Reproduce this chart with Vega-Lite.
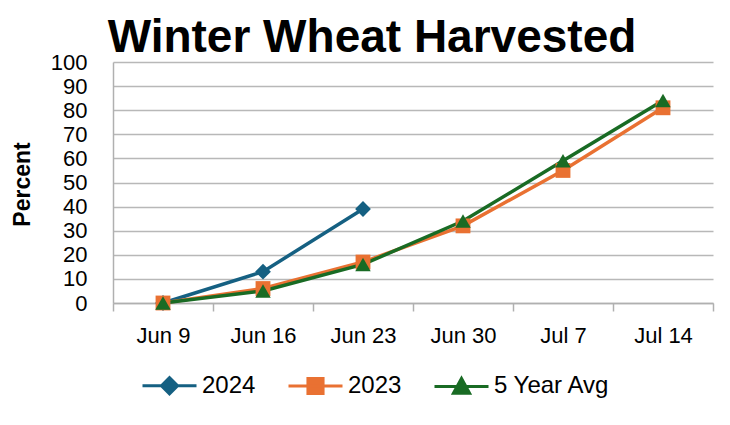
{
  "$schema": "https://vega.github.io/schema/vega-lite/v6.json",
  "width": 600,
  "height": 241,
  "autosize": {"type": "none"},
  "padding": {"left": 113, "top": 62, "right": 17, "bottom": 122},
  "background": "white",
  "title": {
    "text": "Winter Wheat Harvested",
    "font": "Liberation Sans",
    "fontSize": 46,
    "fontWeight": "bold",
    "color": "black",
    "anchor": "middle",
    "frame": "group",
    "dx": -41,
    "offset": -11
  },
  "config": {
    "view": {"stroke": null},
    "axis": {
      "labelFont": "Liberation Sans",
      "labelColor": "black",
      "titleFont": "Liberation Sans",
      "titleColor": "black",
      "domainColor": "#B0B0B0",
      "domainWidth": 1.5,
      "tickColor": "#B0B0B0",
      "tickWidth": 1.5,
      "gridColor": "#B8B8B8",
      "gridWidth": 1.5
    }
  },
  "data": {
    "values": [
      {"date": "Jun 9", "series": "2024", "value": 0},
      {"date": "Jun 16", "series": "2024", "value": 13},
      {"date": "Jun 23", "series": "2024", "value": 39},
      {"date": "Jun 9", "series": "2023", "value": 0},
      {"date": "Jun 16", "series": "2023", "value": 6},
      {"date": "Jun 23", "series": "2023", "value": 17},
      {"date": "Jun 30", "series": "2023", "value": 32},
      {"date": "Jul 7", "series": "2023", "value": 55},
      {"date": "Jul 14", "series": "2023", "value": 81},
      {"date": "Jun 9", "series": "5 Year Avg", "value": 0},
      {"date": "Jun 16", "series": "5 Year Avg", "value": 5},
      {"date": "Jun 23", "series": "5 Year Avg", "value": 16},
      {"date": "Jun 30", "series": "5 Year Avg", "value": 34},
      {"date": "Jul 7", "series": "5 Year Avg", "value": 59},
      {"date": "Jul 14", "series": "5 Year Avg", "value": 84}
    ]
  },
  "encoding": {
    "x": {
      "field": "date",
      "type": "ordinal",
      "sort": ["Jun 9", "Jun 16", "Jun 23", "Jun 30", "Jul 7", "Jul 14"],
      "scale": {"type": "band", "paddingInner": 0, "paddingOuter": 0},
      "axis": {
        "title": null,
        "labelAngle": 0,
        "labelFontSize": 22,
        "tickBand": "extent",
        "tickSize": 8,
        "labelPadding": 14,
        "grid": false,
        "domain": true
      }
    },
    "y": {
      "field": "value",
      "type": "quantitative",
      "scale": {"domain": [0, 100], "nice": false},
      "axis": {
        "values": [0, 10, 20, 30, 40, 50, 60, 70, 80, 90, 100],
        "title": "Percent",
        "titleFontSize": 23,
        "titleFontWeight": "bold",
        "titleX": -91,
        "titleY": 122,
        "titleAngle": -90,
        "titleAlign": "center",
        "titleBaseline": "middle",
        "labelFontSize": 22,
        "labelPadding": 26,
        "ticks": false,
        "grid": true
      }
    },
    "color": {
      "field": "series",
      "type": "nominal",
      "scale": {
        "domain": ["2024", "2023", "5 Year Avg"],
        "range": ["#156082", "#E97132", "#196B24"]
      },
      "legend": {
        "title": null,
        "orient": "none",
        "direction": "horizontal",
        "legendX": 28,
        "legendY": 295,
        "labelFont": "Liberation Sans",
        "labelFontSize": 24,
        "labelColor": "black",
        "labelOffset": 4,
        "columnPadding": 26,
        "symbolSize": 2916,
        "symbolStrokeWidth": 3,
        "encode": {
          "symbols": {
            "update": {
              "shape": {"signal": "datum.value == '2024' ? 'M-1,0L1,0M-0.3,0L0,-0.3L0.3,0L0,0.3Z' : datum.value == '2023' ? 'M-1,0L1,0M-0.28,-0.28L0.28,-0.28L0.28,0.28L-0.28,0.28Z' : 'M-1,0L1,0M-0.3,0.25L0,-0.3L0.3,0.25Z'"},
              "fill": {"scale": "color", "field": "value"},
              "stroke": {"scale": "color", "field": "value"},
              "strokeWidth": {"value": 3},
              "opacity": {"value": 1}
            }
          }
        }
      }
    }
  },
  "layer": [
    {
      "mark": {"type": "line", "strokeWidth": 3.5}
    },
    {
      "transform": [{"filter": "datum.series == '2024'"}],
      "mark": {"type": "point", "shape": "diamond", "filled": true, "opacity": 1, "size": 250}
    },
    {
      "transform": [{"filter": "datum.series == '2023'"}],
      "mark": {"type": "point", "shape": "square", "filled": true, "opacity": 1, "size": 220}
    },
    {
      "transform": [{"filter": "datum.series == '5 Year Avg'"}],
      "mark": {"type": "point", "shape": "triangle-up", "filled": true, "opacity": 1, "size": 240}
    }
  ]
}
